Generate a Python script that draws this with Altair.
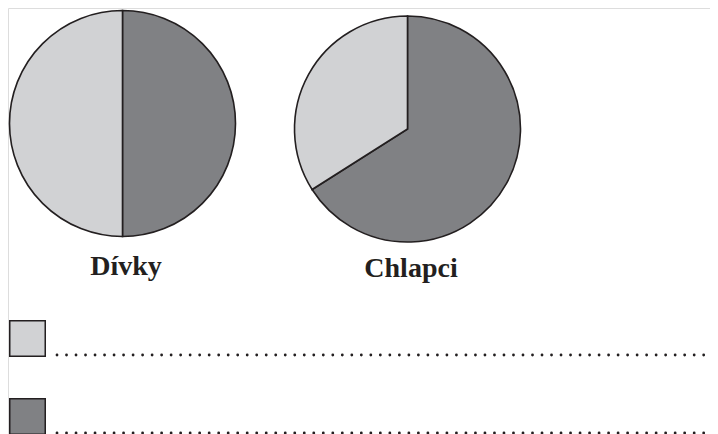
import altair as alt
import pandas as pd

# --- data -------------------------------------------------------------
kategorie = ["tmavá", "světlá"]          # slice categories (dark first, clockwise from 12 o'clock)
divky = [50, 50]                          # Dívky: dark / light
chlapci = [66, 34]                        # Chlapci: dark / light
skupiny = ["Dívky", "Chlapci"]            # pie captions
barvy = ["#808184", "#d1d2d4"]            # dark, light
legenda = ["světlá", "tmavá"]             # legend rows, top to bottom

INK = "#231f20"

pie_df = pd.DataFrame({
    "skupina": [skupiny[0]] * 2 + [skupiny[1]] * 2,
    "kategorie": kategorie + kategorie,
    "hodnota": divky + chlapci,
    "poradi": [0, 1, 0, 1],
})
label_df = pd.DataFrame({"skupina": skupiny})
legend_df = pd.DataFrame({"kategorie": legenda})

color = alt.Color("kategorie:N",
                  scale=alt.Scale(domain=kategorie, range=barvy),
                  legend=None)

base = alt.Chart(pie_df)


def pie(name, cx, cy):
    return (base.transform_filter(alt.datum.skupina == name)
            .mark_arc(radius=113, stroke=INK, strokeWidth=1.6)
            .encode(theta=alt.Theta("hodnota:Q", stack=True),
                    order=alt.Order("poradi:Q"),
                    color=color,
                    x=alt.value(cx), y=alt.value(cy)))


def label(name, cx, cy):
    return (alt.Chart(label_df).transform_filter(alt.datum.skupina == name)
            .mark_text(font="Liberation Serif", fontWeight="bold", fontSize=28,
                       color=INK, align="center", baseline="alphabetic")
            .encode(text="skupina:N", x=alt.value(cx), y=alt.value(cy)))


ly = alt.Y("kategorie:N",
           scale=alt.Scale(type="point", domain=legenda, range=[330.5, 408.5], padding=0),
           axis=None)

squares = (alt.Chart(legend_df)
           .mark_square(size=1260, opacity=1, filled=True, stroke=INK, strokeWidth=1.5)
           .encode(y=ly, x=alt.value(19.5), color=color))

dots = (alt.Chart(legend_df)
        .mark_rule(strokeDash=[0.01, 9.5], strokeCap="round", strokeWidth=2.8,
                   color=INK, yOffset=16.5)
        .encode(y=ly, x=alt.value(49), x2=alt.value(712)))

chart = (alt.layer(pie(skupiny[0], 114.5, 115.5),
                   pie(skupiny[1], 399.5, 121),
                   label(skupiny[0], 118, 267),
                   label(skupiny[1], 403, 268.5),
                   squares, dots)
         .resolve_scale(theta="independent")
         .properties(width=702, height=426, padding=0,
                     autosize=alt.AutoSizeParams(type="none"))
         .configure_view(strokeOpacity=0, strokeWidth=0)
         .configure(background="transparent"))

chart.save("out.html", embed_options={"renderer": "svg", "actions": False})
